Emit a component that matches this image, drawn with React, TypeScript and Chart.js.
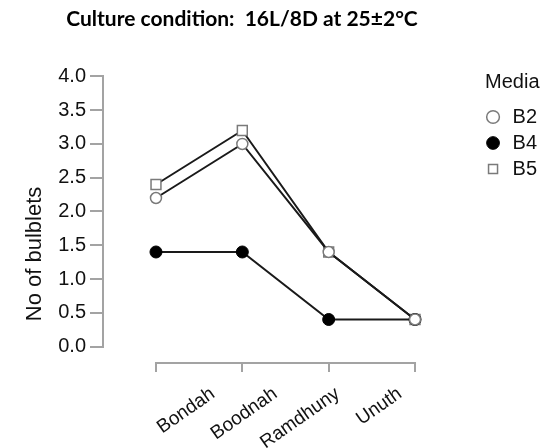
import React, { useEffect, useRef } from "react";
import { Chart, registerables } from "chart.js";

Chart.register(...registerables);

// ---- data ----
const CATEGORIES = ["Bondah", "Boodnah", "Ramdhuny", "Unuth"];
const B2 = [2.2, 3.0, 1.4, 0.4];
const B4 = [1.4, 1.4, 0.4, 0.4];
const B5 = [2.4, 3.2, 1.4, 0.4];
const Y_TICKS = [0, 0.5, 1, 1.5, 2, 2.5, 3, 3.5, 4];
const TITLE = "Culture condition:  16L/8D at 25\u00b12\u00b0C";
const Y_TITLE = "No of bulblets";
const LEGEND_TITLE = "Media";

// ---- style / layout ----
const W = 549;
const H = 448;
const FONT = "'Liberation Sans', Arial, sans-serif";
const AXIS_GRAY = "#a3a3a3";
const LINE = "#1a1a1a";
const MARK_GRAY = "#7a7a7a";
const X_MIN = -0.602;
const X_MAX = 3.724;
const Y_MIN = -0.2296;
const Y_MAX = 4.244;

const decor = {
  id: "decor",
  beforeDatasetsDraw(chart: any) {
    const { ctx, chartArea, scales } = chart;
    const xs = scales.x;
    const ys = scales.y;
    ctx.save();
    ctx.strokeStyle = AXIS_GRAY;
    ctx.lineWidth = 2;
    ctx.beginPath();
    ctx.moveTo(chartArea.left - 1, ys.getPixelForValue(Y_TICKS[0]) + 1);
    ctx.lineTo(chartArea.left - 1, ys.getPixelForValue(Y_TICKS[Y_TICKS.length - 1]) - 1);
    ctx.stroke();
    ctx.beginPath();
    ctx.moveTo(xs.getPixelForValue(0) - 1, chartArea.bottom + 1);
    ctx.lineTo(xs.getPixelForValue(CATEGORIES.length - 1) + 1, chartArea.bottom + 1);
    ctx.stroke();
    ctx.restore();
  },
  afterDraw(chart: any) {
    const { ctx, chartArea, scales } = chart;
    const xs = scales.x;
    ctx.save();
    // main title
    ctx.fillStyle = "#000";
    ctx.font = "bold 21px Lato, sans-serif";
    ctx.textAlign = "center";
    ctx.textBaseline = "alphabetic";
    ctx.fillText(TITLE, 242, 26);
    // y axis title
    ctx.save();
    ctx.translate(35, 254);
    ctx.rotate(-Math.PI / 2);
    ctx.font = "22px " + FONT;
    ctx.fillStyle = "#111";
    ctx.textAlign = "center";
    ctx.textBaseline = "middle";
    ctx.fillText(Y_TITLE, 0, 0);
    ctx.restore();
    // x category labels (rotated)
    const p0 = xs.getPixelForValue(0);
    CATEGORIES.forEach((c, i) => {
      const px = xs.getPixelForValue(i);
      const ax = p0 + 57 + (px - p0) * 0.722;
      ctx.save();
      ctx.translate(ax, chartArea.bottom + 30);
      ctx.rotate((-35 * Math.PI) / 180);
      ctx.font = "19px " + FONT;
      ctx.fillStyle = "#111";
      ctx.textAlign = "right";
      ctx.textBaseline = "middle";
      ctx.fillText(c, 0, 0);
      ctx.restore();
    });
    ctx.restore();
  },
};

function series(label: string, values: number[], style: any) {
  return {
    label,
    data: values.map((v, i) => ({ x: i, y: v })),
    borderColor: LINE,
    borderWidth: 2,
    showLine: true,
    fill: false,
    tension: 0,
    ...style,
  };
}

export default function App() {
  const ref = useRef<HTMLCanvasElement | null>(null);
  useEffect(() => {
    if (!ref.current) return;
    const chart = new Chart(ref.current, {
      type: "line",
      data: {
        datasets: [
          series("B2", B2, {
            pointStyle: "circle",
            pointRadius: 5.5,
            pointBackgroundColor: "#ffffff",
            pointBorderColor: MARK_GRAY,
            pointBorderWidth: 1.5,
          }),
          series("B4", B4, {
            pointStyle: "circle",
            pointRadius: 6,
            pointBackgroundColor: "#000000",
            pointBorderColor: "#000000",
            pointBorderWidth: 1,
          }),
          series("B5", B5, {
            pointStyle: "rect",
            pointRadius: 7,
            pointBackgroundColor: "#ffffff",
            pointBorderColor: MARK_GRAY,
            pointBorderWidth: 1.5,
          }),
        ],
      },
      options: {
        animation: false,
        responsive: false,
        maintainAspectRatio: false,
        layout: { padding: { top: 60, right: 2, left: 0, bottom: 0 } },
        plugins: {
          tooltip: { enabled: false },
          title: { display: false },
          legend: {
            display: true,
            position: "right",
            align: "start",
            title: {
              display: true,
              text: LEGEND_TITLE,
              color: "#111",
              position: "center",
              font: { family: FONT, size: 20 },
              padding: { top: 12, bottom: 5 },
            },
            labels: {
              usePointStyle: true,
              boxWidth: 19,
              boxHeight: 9,
              padding: 6,
              color: "#111",
              font: { family: FONT, size: 20 },
            },
          },
        },
        scales: {
          x: {
            type: "linear",
            min: X_MIN,
            max: X_MAX,
            afterBuildTicks: (s: any) => {
              s.ticks = CATEGORIES.map((_, i) => ({ value: i }));
            },
            afterFit: (s: any) => {
              s.height = 86;
            },
            grid: {
              drawOnChartArea: false,
              drawTicks: true,
              tickLength: 10,
              color: AXIS_GRAY,
              lineWidth: 2,
            },
            border: { display: false },
            ticks: { display: false },
          },
          y: {
            type: "linear",
            min: Y_MIN,
            max: Y_MAX,
            afterBuildTicks: (s: any) => {
              s.ticks = Y_TICKS.map((v) => ({ value: v }));
            },
            afterFit: (s: any) => {
              s.width = 104;
            },
            grid: {
              drawOnChartArea: false,
              drawTicks: true,
              tickLength: 14,
              color: AXIS_GRAY,
              lineWidth: 2,
            },
            border: { display: false },
            ticks: {
              padding: 4,
              color: "#111",
              font: { family: FONT, size: 20 },
              callback: (v: any) => Number(v).toFixed(1),
            },
          },
        },
      },
      plugins: [decor],
    } as any);
    return () => chart.destroy();
  }, []);
  return (
    <div style={{ position: "absolute", left: 0, top: 0, width: W, height: H, background: "#fff" }}>
      <canvas ref={ref} width={W} height={H} />
    </div>
  );
}
